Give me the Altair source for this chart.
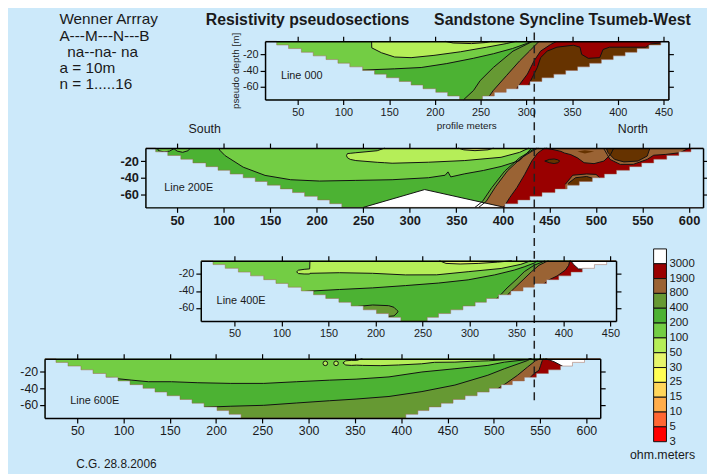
import altair as alt
import pandas as pd

W, H = 707, 466
BG = "#CCE9FA"
FONT = "Liberation Sans, Arial, sans-serif"
TOP, BOT = -4.4, -75.6

# ---------------- resistivity classes ----------------
COL = {"w": "#FFFFFF", "r": "#990000", "b": "#9A6334", "o": "#669933", "g": "#4CB233",
       "m": "#73CD44", "l": "#B5EE58", "p": "#E6F56B", "k": "#663300"}
LEGEND_COLORS = ["#FFFFFF", "#990000", "#9A6334", "#669933", "#4CB233", "#73CD44", "#B5EE58",
                 "#E6F56B", "#FFFF55", "#FFD65A", "#FFAD4A", "#FF6633", "#FF0000"]
LEGEND_LABELS = ["3000", "1900", "800", "400", "200", "100", "50", "30", "25", "15", "10", "5", "3"]

# ---------------- pseudosection outline (levels n = 1..16) ----------------
DEPTH_LEVELS = [-4.4, -8.9, -13.3, -17.8, -22.2, -26.7, -31.1, -35.6, -40.0, -44.5,
                -48.9, -53.4, -57.8, -62.3, -66.7, -71.2, -75.6]
LEFT_ENDS = [27, 40, 54, 67, 81, 94, 107, 121, 134, 147, 161, 174, 187, 201, 214, 227]
R_000 = [447, 434, 421, 408, 395, 382, 369, 356, 343, 330, 317, 304, 291, 278, 265, 252]
R_200E = [602, 589, 576, 562, 549, 536, 522, 509, 496, 482, 469, 456, 442, 429, 416, 402]
R_400E = [446, 433, 420, 408, 395, 382, 369, 357, 344, 331, 318, 306, 293, 280, 267, 255]
R_600E = [598, 585, 572, 559, 546, 533, 520, 508, 495, 482, 469, 456, 443, 430, 418, 405]

# ---------------- Line 000 ----------------
X000_G = [110, 120, 156, 185, 213, 242, 264, 285, 300, 306, 455.4]
D000_G = [-42, -39.6, -38, -36.4, -31.6, -25.2, -19.6, -13.2, -7.2, -4.4, -4.4]
X000_L = [130.8, 131, 141.6, 156, 174, 199, 228, 256.7, 278, 289]
D000_L = [-4.4, -12.4, -18.4, -23.6, -24.4, -21.6, -17.2, -11.6, -7.2, -4.4]
X000_P = [211, 220, 240, 255, 262]
D000_P = [-4.4, -6.5, -7.2, -6.0, -4.4]
X000_O = [231.5, 242.3, 249.5, 263.9, 285.4, 299.8, 307, 455.4]
D000_O = [-75.6, -64.4, -52.4, -36.4, -16.4, -8.4, -4.4, -4.4]
X000_B = [256.7, 263.9, 278.2, 292.6, 303.4, 314, 455.4]
D000_B = [-75.6, -64.4, -46.4, -28.4, -16.4, -4.4, -4.4]
X000_R = [284, 290.4, 301.2, 308.4, 315.6, 326.4, 333.5, 455.4]
D000_R = [-75.6, -60.4, -44.4, -28.4, -16.4, -8.4, -4.4, -4.4]
X000_K = [296, 301.2, 306.6, 312, 315.6, 322.8, 333.5, 351.5, 358.7, 360.5, 367.7, 380.3,
          383.9, 391, 430.6, 436, 448.5, 455.4]
D000_K = [-75.6, -60.4, -48.4, -36.4, -24.4, -16.4, -11.6, -9.2, -11.6, -20.4, -25.2, -24.4,
          -14.4, -11.6, -11.6, -7.6, -6.4, -6.4]

# ---------------- Line 200E ----------------
X200_MS = [29, 30, 36, 42, 46, 47, 50, 56, 62, 64]
D200_MS = [-4.4, -7.5, -9, -8, -5.5, -5.5, -8, -9.5, -7.5, -4.4]
X200_M = [95, 95.7, 101.6, 121, 144.5, 172, 203, 242, 281, 320, 338, 341, 344, 359, 379, 398, 418, 431]
D200_M = [-4.4, -6.8, -13.5, -27.3, -37.2, -42.4, -44, -43.2, -42.4, -40, -37, -33, -39, -35.3,
          -31.3, -26.5, -19.4, -4.4]
X200_L = [232, 233, 236, 242, 265, 273, 281, 320, 359, 398, 418, 428]
D200_LT = [-13.5, -11, -10.7, -10, -7.6, -4.4, -4.4, -4.4, -4.4, -4.4, -4.4, -4.4]
D200_LB = [-13.5, -16, -18, -19.4, -21.5, -22, -22.6, -21.4, -19.4, -15.5, -9.5, -4.4]
X200_P = [352, 358, 370, 384, 390]
D200_P = [-4.4, -6.5, -7.5, -6.5, -4.4]
X200_O = [370, 378, 388, 402, 418, 432, 436, 615]
D200_O = [-75.6, -68.5, -52, -32, -16, -6.5, -4.4, -4.4]
X200_B = [374, 382, 392, 405, 420, 434, 438, 615]
D200_B = [-75.6, -68.5, -51, -31.6, -16, -6.4, -4.4, -4.4]
X200_R = [400, 402, 407.5, 415, 423.5, 431, 437.4, 445, 615]
D200_R = [-75.6, -73.4, -63.6, -51.9, -35.9, -20, -10.3, -4.4, -4.4]
X200_BA = [446, 455, 462.4, 466, 473, 480, 487.2, 497.9, 508.5, 515.6, 519.1]
D200_BA = [-4.4, -6.5, -8.4, -10.3, -12.3, -16.1, -22, -23.1, -20, -12.3, -4.4]
X200_KA = [480, 488, 498]
D200_KAT = [-8.5, -7, -8.5]
D200_KAB = [-8.5, -11, -8.5]
X200_BB = [508, 512, 515, 526, 540, 555, 562, 575, 590, 600]
D200_BB = [-4.4, -12, -18, -24, -24, -18, -13, -12, -10, -4.4]
X200_KB = [511, 513, 520, 530, 545, 555, 558]
D200_KB = [-4.4, -10, -18, -21, -20, -14, -4.4]
X200_KL = [445, 450, 455, 459, 461]
D200_KLT = [-20, -18, -17.5, -18.5, -20]
D200_KLB = [-20, -22, -23, -22, -20]
X200_BL = [467, 475, 490, 500, 506]
D200_BLT = [-48, -37, -35.5, -36, -42]
X200_KD = [470, 478, 490, 500]
D200_KDT = [-47, -40, -38.5, -42]
X200_W = [250, 316, 402]
D200_W = [-75.6, -54.2, -75.6]

# ---------------- Line 400E ----------------
X400_G = [120, 130.2, 161.7, 196.8, 231.9, 267, 298.6, 326.7, 347.7, 358.2, 368.8, 372.3, 456]
D400_G = [-41, -40.2, -38.3, -36.4, -33.7, -30.7, -26.9, -21.1, -15.4, -11.6, -7.1, -4.4, -4.4]
X400_L = [116, 118, 124, 129.9, 130.2, 161.7, 196.8, 231.9, 265, 298.6, 333.7, 354.7, 365.3]
D400_LT = [-17.5, -15.5, -14.5, -14, -4.4, -4.4, -4.4, -4.4, -4.4, -4.4, -4.4, -4.4, -4.4]
D400_LB = [-17.5, -19.5, -20, -20, -19.2, -18.5, -19.2, -21.1, -21, -17.3, -13.5, -8.6, -4.4]
X400_P = [268, 275, 290, 310, 330, 345]
D400_P = [-4.4, -7.5, -8.2, -7.5, -6, -4.4]
X400_OP = [182, 183, 197, 214, 219.6, 223, 224]
D400_OPT = [-58, -58.1, -56.6, -57.4, -59.3, -63.1, -64]
D400_OPB = [-75.6, -75.6, -75.6, -70, -69.5, -66, -64]
X400_O = [305, 333.7, 340, 349.5, 358.3, 368.8, 377.6, 380, 456]
D400_O = [-75.6, -44, -36.5, -26.9, -17.3, -9.7, -5.9, -4.4, -4.4]
X400_B = [313, 341, 348, 357, 366, 374, 381, 384, 456]
D400_B = [-75.6, -44, -36.5, -26.9, -17.3, -9.7, -5.9, -4.4, -4.4]
X400_R = [370, 384.6, 393.3, 402.1, 405.6, 406.7, 456]
D400_R = [-40, -26.9, -22.3, -15.4, -9.7, -4.4, -4.4]
X400_W = [407.5, 409, 411, 416, 456]
D400_W = [-4.4, -6, -9, -14, -16]

# ---------------- Line 600E ----------------
X600_G = [80, 84.1, 109, 126.8, 151.8, 180.3, 215.9, 251.5, 287.1, 322.7, 351.2, 386.8, 422.4,
          458, 493.6, 511.4, 536.4, 540, 615]
D600_G = [-28, -27.4, -30.2, -32.1, -32.1, -33.3, -34.1, -34.1, -32.1, -30.2, -29, -26.3, -20.4,
          -16.5, -12.5, -8.6, -5.5, -4.4, -4.4]
X600_O = [180, 187.4, 215.9, 251.5, 287.1, 322.7, 351.2, 386.8, 422.4, 458, 493.6, 511.4, 536.4, 540, 615]
D600_O = [-64, -62.7, -61.5, -60.4, -57.6, -54.9, -52.9, -49.8, -43.9, -36.1, -24.3, -16.5, -6.7, -4.4, -4.4]
X600_L = [337, 340, 346, 352, 358, 378, 397, 422, 436, 458, 475, 494, 514, 536, 541]
D600_LT = [-9.5, -7, -6.5, -6.5, -4.4, -4.4, -4.4, -4.4, -4.4, -4.4, -4.4, -4.4, -4.4, -4.4, -4.4]
D600_LB = [-9.5, -12, -12.5, -12.2, -12.5, -12.8, -12, -10.6, -8.8, -8.6, -7.6, -7, -5.6, -5.5, -4.4]
X600_B = [500, 505, 513.2, 525.7, 536.4, 545.3, 550.6, 615]
D600_B = [-45, -40, -34.1, -24.3, -14.5, -6.7, -4.4, -4.4]
X600_R = [532, 538.2, 543.5, 548.8, 550.6, 552.4, 553.4, 615]
D600_R = [-32, -28.2, -22.3, -18.4, -12.5, -6.7, -4.4, -4.4]
X600_W = [556, 560, 565, 569.5, 575, 615]
D600_W = [-4.4, -6, -8, -10.6, -14, -14]
X600_DOTS = [318, 329.6]
D600_DOTS = [-10, -10]

DASH_X_000 = 308.7

# ---------------- panel layout (pixels) ----------------
XDOM = {"000": [14.3, 455.4], "200E": [16, 615], "400E": [14, 456], "600E": [14.7, 615]}
XRNG = {"000": [260, 668], "200E": [139, 703], "400E": [195, 615], "600E": [37, 599]}
YRNG = {"000": [90, 31], "200E": [199, 139], "400E": [314, 253], "600E": [412, 352]}
XTICKS = {"000": list(range(50, 451, 50)), "200E": list(range(50, 601, 50)),
          "400E": list(range(50, 451, 50)), "600E": list(range(50, 601, 50))}
LFS = {"000": 11, "200E": 13, "400E": 11, "600E": 12.5}
LFW = {"000": "normal", "200E": "bold", "400E": "normal", "600E": "normal"}


def sx(p):
    return alt.Scale(domain=XDOM[p], range=XRNG[p], nice=False, zero=False)


def sy(p):
    return alt.Scale(domain=[BOT, TOP], range=YRNG[p], nice=False, zero=False)


def ax_common(p, labels):
    return dict(title=None, grid=False, zindex=2, domainColor="black", domainWidth=1.5,
                tickColor="black", tickWidth=1.2, tickSize=5, labels=labels,
                labelFont=FONT, labelFontSize=LFS[p], labelFontWeight=LFW[p],
                labelColor="#1a1a1a", labelPadding=2, labelFlush=False, labelOverlap=False)


def ax_x(p, orient):
    off = (YRNG[p][0] - H) if orient == "bottom" else -YRNG[p][1]
    return alt.Axis(orient=orient, offset=off, values=XTICKS[p], **ax_common(p, orient == "bottom"))


def ax_y(p, orient):
    off = -XRNG[p][0] if orient == "left" else XRNG[p][1] - W
    return alt.Axis(orient=orient, offset=off, values=[-20, -40, -60], labelExpr="'' + datum.value",
                    **ax_common(p, orient == "left"))


def band(p, cls, x, top, bot=BOT, axes=False):
    n = len(x)
    top = top if isinstance(top, list) else [top] * n
    bot = bot if isinstance(bot, list) else [bot] * n
    df = pd.DataFrame({"x": x, "t": top, "b": bot})
    return alt.Chart(df).mark_area(color=COL[cls]).encode(
        x=alt.X("x:Q", scale=sx(p), axis=ax_x(p, "bottom") if axes else None),
        y=alt.Y("t:Q", scale=sy(p), axis=ax_y(p, "left") if axes else None),
        y2=alt.Y2("b:Q"))


def contour(p, x, d, w=1.0):
    df = pd.DataFrame({"x": x, "d": d, "i": list(range(len(x)))})
    return alt.Chart(df).mark_line(color="#111111", strokeWidth=w).encode(
        x=alt.X("x:Q", scale=sx(p), axis=None),
        y=alt.Y("d:Q", scale=sy(p), axis=None),
        order=alt.Order("i:Q"))


def mask(p, rights):
    xs = [XDOM[p][0]] + LEFT_ENDS + rights[::-1] + [XDOM[p][1]]
    ds = [TOP] + DEPTH_LEVELS[1:] + DEPTH_LEVELS[15::-1] + [TOP]
    df = pd.DataFrame({"x": xs, "d": ds, "b": [BOT] * len(xs)})
    area = alt.Chart(df).mark_area(color=BG, interpolate="step-after").encode(
        x=alt.X("x:Q", scale=sx(p), axis=ax_x(p, "top")),
        y=alt.Y("d:Q", scale=sy(p), axis=ax_y(p, "right")),
        y2=alt.Y2("b:Q"))
    edge = alt.Chart(df).mark_line(color="#A0604A", strokeWidth=0.8, opacity=0.6,
                                   interpolate="step-after").encode(
        x=alt.X("x:Q", scale=sx(p), axis=None),
        y=alt.Y("d:Q", scale=sy(p), axis=None))
    return [area, edge]


def txt(s, x, y, size, weight="normal", align="left", angle=0, baseline="middle", color="#1a1a1a"):
    return alt.Chart(pd.DataFrame({"s": [s]})).mark_text(
        align=align, baseline=baseline, fontSize=size, fontWeight=weight, font=FONT,
        angle=angle, color=color).encode(x=alt.value(x), y=alt.value(y), text="s:N")


layers = []

# ---- Line 000 ----
p = "000"
layers += [
    band(p, "m", XDOM[p], TOP, axes=True),
    band(p, "g", X000_G, D000_G),
    band(p, "l", X000_L, TOP, D000_L),
    band(p, "p", X000_P, TOP, D000_P),
    band(p, "o", X000_O, D000_O),
    band(p, "b", X000_B, D000_B),
    band(p, "r", X000_R, D000_R),
    band(p, "k", X000_K, D000_K),
    contour(p, X000_G[:-1], D000_G[:-1]),
    contour(p, X000_L, D000_L),
    contour(p, X000_P, D000_P),
    contour(p, X000_O[:-1], D000_O[:-1]),
    contour(p, X000_B[:-1], D000_B[:-1]),
    contour(p, X000_R[:-1], D000_R[:-1]),
    contour(p, X000_K, D000_K),
] + mask(p, R_000)

# ---- Line 200E ----
p = "200E"
layers += [
    band(p, "g", XDOM[p], TOP, axes=True),
    band(p, "m", X200_MS, TOP, D200_MS),
    band(p, "m", X200_M, TOP, D200_M),
    band(p, "l", X200_L, D200_LT, D200_LB),
    band(p, "p", X200_P, TOP, D200_P),
    band(p, "o", X200_O, D200_O),
    band(p, "b", X200_B, D200_B),
    band(p, "r", X200_R, D200_R),
    band(p, "b", X200_BA, TOP, D200_BA),
    band(p, "k", X200_KA, D200_KAT, D200_KAB),
    band(p, "b", X200_BB, TOP, D200_BB),
    band(p, "k", X200_KB, TOP, D200_KB),
    band(p, "k", X200_KL, D200_KLT, D200_KLB),
    band(p, "b", X200_BL, D200_BLT, -55),
    band(p, "k", X200_KD, D200_KDT, -55),
    band(p, "w", X200_W, D200_W),
    contour(p, X200_MS, D200_MS),
    contour(p, X200_M, D200_M),
    contour(p, X200_L[:6], D200_LT[:6]),
    contour(p, X200_L, D200_LB),
    contour(p, X200_P, D200_P),
    contour(p, X200_O[:-1], D200_O[:-1]),
    contour(p, X200_B[:-1], D200_B[:-1]),
    contour(p, X200_R[:-1], D200_R[:-1]),
    contour(p, X200_BA, D200_BA),
    contour(p, X200_KB, D200_KB),
    contour(p, X200_BB, D200_BB),
    contour(p, X200_KL, D200_KLT),
    contour(p, X200_KL, D200_KLB),
    contour(p, X200_BL, D200_BLT),
    contour(p, X200_KD, D200_KDT),
    contour(p, X200_W, D200_W),
] + mask(p, R_200E)

# ---- Line 400E ----
p = "400E"
layers += [
    band(p, "m", XDOM[p], TOP, axes=True),
    band(p, "g", X400_G, D400_G),
    band(p, "l", X400_L, D400_LT, D400_LB),
    band(p, "p", X400_P, TOP, D400_P),
    band(p, "o", X400_OP, D400_OPT, D400_OPB),
    band(p, "o", X400_O, D400_O),
    band(p, "b", X400_B, D400_B),
    band(p, "r", X400_R, D400_R),
    band(p, "w", X400_W, TOP, D400_W),
    contour(p, X400_G[:-1], D400_G[:-1]),
    contour(p, X400_L[:5], D400_LT[:5]),
    contour(p, X400_L, D400_LB),
    contour(p, X400_P, D400_P),
    contour(p, X400_OP, D400_OPT),
    contour(p, X400_OP[3:], D400_OPB[3:]),
    contour(p, X400_O[:-1], D400_O[:-1]),
    contour(p, X400_B[:-1], D400_B[:-1]),
    contour(p, X400_R[:-1], D400_R[:-1]),
    contour(p, X400_W, D400_W),
] + mask(p, R_400E)

# ---- Line 600E ----
p = "600E"
dots = alt.Chart(pd.DataFrame({"x": X600_DOTS, "d": D600_DOTS})).mark_point(
    shape="circle", filled=True, fill=COL["l"], stroke="#111111", strokeWidth=1, size=22, opacity=1).encode(
    x=alt.X("x:Q", scale=sx(p), axis=None), y=alt.Y("d:Q", scale=sy(p), axis=None))
layers += [
    band(p, "m", XDOM[p], TOP, axes=True),
    band(p, "g", X600_G, D600_G),
    band(p, "o", X600_O, D600_O),
    band(p, "l", X600_L, D600_LT, D600_LB),
    band(p, "b", X600_B, D600_B),
    band(p, "r", X600_R, D600_R),
    band(p, "w", X600_W, TOP, D600_W),
    contour(p, X600_G[:-1], D600_G[:-1]),
    contour(p, X600_O[:-1], D600_O[:-1]),
    contour(p, X600_L[:5], D600_LT[:5]),
    contour(p, X600_L, D600_LB),
    contour(p, X600_B[:-1], D600_B[:-1]),
    contour(p, X600_R[:-1], D600_R[:-1]),
    contour(p, X600_W, D600_W),
    dots,
] + mask(p, R_600E)

# ---- legend (colour bar) ----
leg = pd.DataFrame({"i": list(range(13)), "i2": list(range(1, 14)), "c": LEGEND_COLORS,
                    "lab": LEGEND_LABELS})
leg_scale = alt.Scale(domain=[0, 13], range=[241, 436], nice=False, zero=False)
layers.append(alt.Chart(leg).mark_rect(stroke="#111111", strokeWidth=1).encode(
    y=alt.Y("i:Q", scale=leg_scale, axis=None), y2="i2:Q",
    x=alt.value(653), x2=alt.value(666), color=alt.Color("c:N", scale=None)))
layers.append(alt.Chart(leg).mark_text(align="left", baseline="middle", font=FONT, fontSize=11.5,
                                       color="#1a1a1a").encode(
    y=alt.Y("i2:Q", scale=leg_scale, axis=None), x=alt.value(669), text="lab:N"))

# ---- dashed marker line ----
layers.append(alt.Chart(pd.DataFrame({"x": [DASH_X_000]})).mark_rule(
    color="#222222", strokeWidth=1.5, strokeDash=[8, 5]).encode(
    x=alt.X("x:Q", scale=sx("000"), axis=None), y=alt.value(22), y2=alt.value(397)))

# ---- texts ----
layers += [
    txt("Wenner Arrray", 52, 9, 15.5),
    txt("A---M---N---B", 52, 25.5, 15.5),
    txt("na--na- na", 60, 41.5, 15.5),
    txt("a = 10m", 52, 58, 15.5),
    txt("n = 1.....16", 52, 74, 15.5),
    txt("Resistivity pseudosections", 200, 10, 16, weight="bold"),
    txt("Sandstone Syncline Tsumeb-West", 431, 10, 16, weight="bold"),
    txt("pseudo depth [m]", 231, 61, 10, align="center", angle=270),
    txt("profile meters", 464, 117, 10, align="center"),
    txt("South", 199, 120, 12.5, align="center"),
    txt("North", 632, 120, 12.5, align="center"),
    txt("Line 000", 276, 66, 11),
    txt("Line 200E", 158, 179, 11),
    txt("Line 400E", 211, 294, 11),
    txt("Line 600E", 63, 395, 11),
    txt("ohm.meters", 662, 450, 12.5, align="center"),
    txt("C.G. 28.8.2006", 69, 463, 12, baseline="alphabetic"),
]

chart = alt.layer(*layers).resolve_scale(x="independent", y="independent").properties(
    width=W, height=H, background=BG, padding=0,
    autosize=alt.AutoSizeParams(type="none")).configure_view(stroke=None)

chart.save("out.html", embed_options={"renderer": "svg", "actions": False})
